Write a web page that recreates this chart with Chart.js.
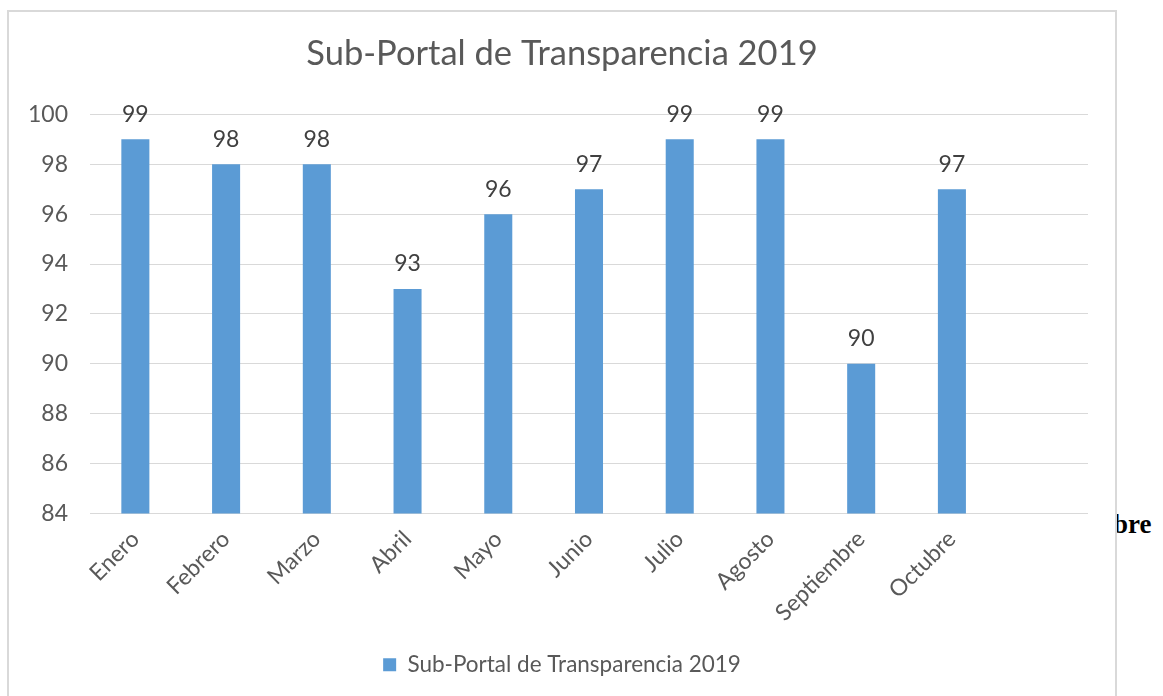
<!DOCTYPE html>
<html>
<head>
<meta charset="utf-8">
<script src="https://cdn.jsdelivr.net/npm/chart.js@4.4.0/dist/chart.umd.min.js"></script>
<style>
  html, body { margin:0; padding:0; background:#fff; width:1163px; height:696px; overflow:hidden; }
  #frame { position:absolute; left:7px; top:10px; width:1110px; height:700px; box-sizing:border-box;
           border:2px solid #d9d9d9; border-bottom:none; background:#fff; z-index:2; }
  #wrap { position:absolute; left:0; top:0; width:1106px; height:684px; }
  #side { position:absolute; left:1113px; top:509px; font-family:"Liberation Serif", serif; font-weight:bold;
          font-size:27px; color:#000; z-index:1; }
</style>
</head>
<body>
<div id="side">bre</div>
<div id="frame"><div id="wrap"><canvas id="c"></canvas></div></div>
<script>
const categories = ['Enero','Febrero','Marzo','Abril','Mayo','Junio','Julio','Agosto','Septiembre','Octubre',''];
const values = [99, 98, 98, 93, 96, 97, 99, 99, 90, 97, null];
const seriesName = 'Sub-Portal de Transparencia 2019';
const chartTitle = 'Sub-Portal de Transparencia 2019';
const yMin = 84, yMax = 100, yStep = 2;

const FONT = 'Lato, "Open Sans", sans-serif';
const TXT = '#595959';

const valueLabels = {
  id: 'valueLabels',
  afterDatasetsDraw(chart) {
    const ctx = chart.ctx;
    const meta = chart.getDatasetMeta(0);
    ctx.save();
    ctx.font = '23px ' + FONT;
    ctx.fillStyle = '#404040';
    ctx.textAlign = 'center';
    ctx.textBaseline = 'middle';
    meta.data.forEach((el, i) => {
      const v = chart.data.datasets[0].data[i];
      if (v === null || v === undefined) return;
      ctx.fillText(String(v), el.x, el.y - 25);
    });
    ctx.restore();
  }
};

new Chart(document.getElementById('c'), {
  type: 'bar',
  data: {
    labels: categories,
    datasets: [{
      label: seriesName,
      data: values,
      backgroundColor: '#5B9BD5',
      borderWidth: 0,
      barPercentage: 0.309,
      categoryPercentage: 1.0,
      yAxisID: 'y'
    }]
  },
  options: {
    responsive: true,
    maintainAspectRatio: false,
    animation: false,
    layout: { padding: { top: 21, left: 0, right: 0, bottom: 10 } },
    plugins: {
      title: {
        display: true, text: chartTitle, color: TXT,
        font: { family: FONT, size: 34.5, weight: 'normal' },
        padding: { top: 0, bottom: 40 }
      },
      legend: {
        display: true, position: 'bottom',
        labels: { color: TXT, font: { family: FONT, size: 22.5 }, boxWidth: 13, boxHeight: 13, padding: 10 }
      },
      tooltip: { enabled: false }
    },
    scales: {
      x: {
        grid: { display: false, drawTicks: false },
        border: { display: false },
        ticks: { color: TXT, font: { family: FONT, size: 23 }, minRotation: 45, maxRotation: 45, autoSkip: false, padding: 12 },
        afterFit(scale) { scale.height = 130; }
      },
      y: {
        position: 'left',
        min: yMin, max: yMax,
        grid: { color: '#d9d9d9', lineWidth: 1, drawTicks: false },
        border: { display: false },
        ticks: { stepSize: yStep, color: TXT, font: { family: FONT, size: 23 }, padding: 22 },
        afterFit(scale) { scale.width = 81; }
      },
      yr: {
        type: 'linear', position: 'right', display: true,
        min: yMin, max: yMax,
        grid: { display: false, drawTicks: false },
        border: { display: false },
        ticks: { display: false },
        afterFit(scale) { scale.width = 27; }
      }
    }
  },
  plugins: [valueLabels]
});
</script>
</body>
</html>
